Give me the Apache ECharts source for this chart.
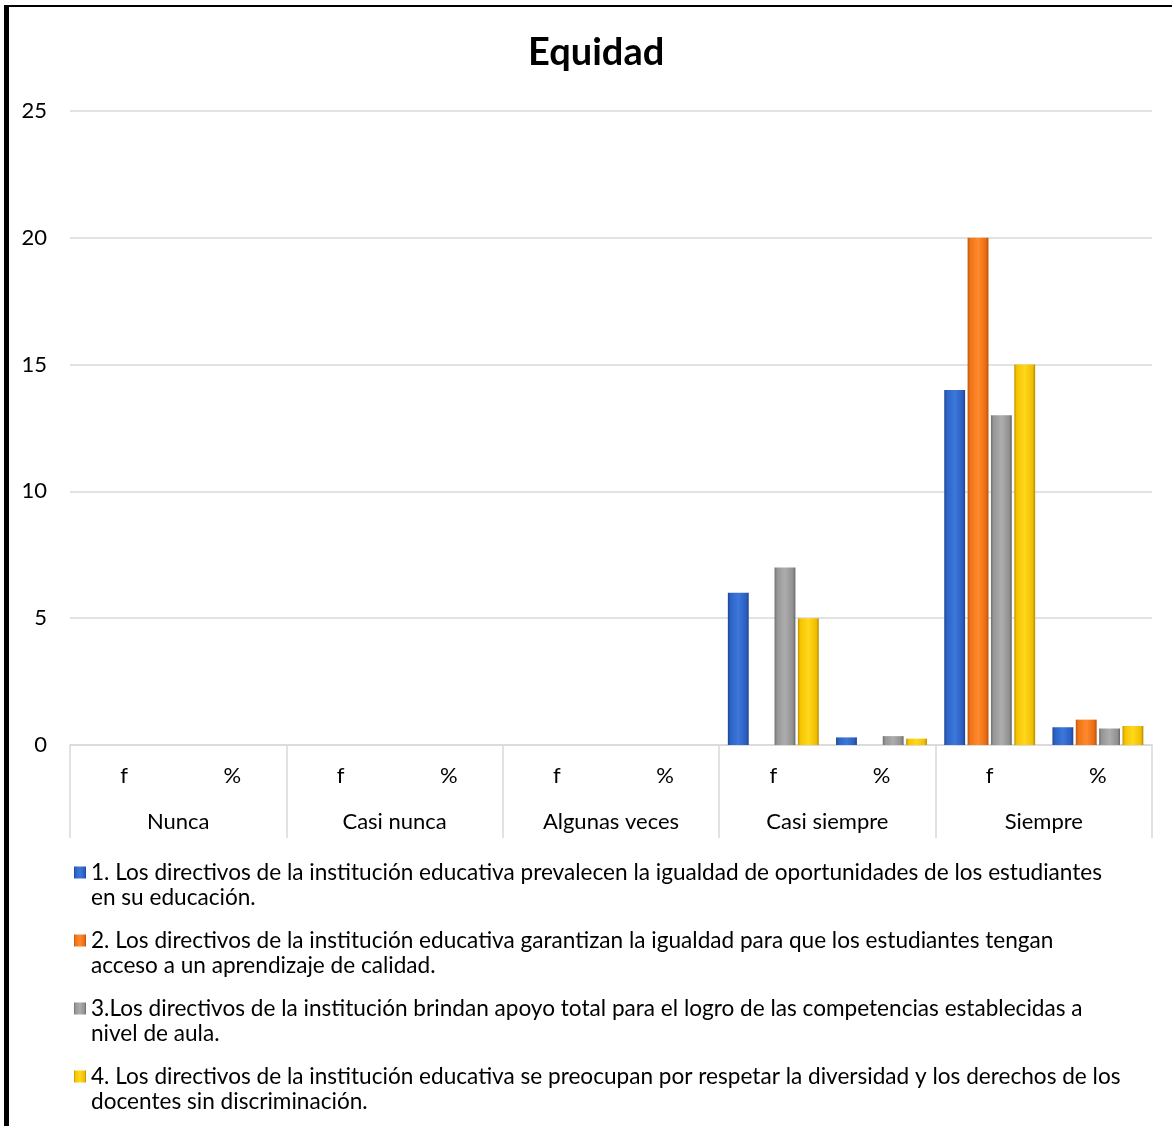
<!DOCTYPE html>
<html>
<head>
<meta charset="utf-8">
<script src="https://cdn.jsdelivr.net/npm/echarts@6/dist/echarts.min.js"></script>
<style>
html,body{margin:0;padding:0;background:#fff;}
#c{position:absolute;left:0;top:0;width:1172px;height:1126px;}
#bl{position:absolute;left:4px;top:5px;width:5px;height:1121px;background:#000;}
#bt{position:absolute;left:4px;top:5px;width:1168px;height:2px;background:#000;}
</style>
</head>
<body>
<div id="c"></div>
<div id="bl"></div>
<div id="bt"></div>
<script>
const subCategories = ['f','%','f','%','f','%','f','%','f','%'];
const groups = ['Nunca','Casi nunca','Algunas veces','Casi siempre','Siempre'];
const seriesNames = [
  '1. Los directivos de la institución educativa prevalecen la igualdad de oportunidades de los estudiantes\nen su educación.',
  '2. Los directivos de la institución educativa garantizan la igualdad para que los estudiantes tengan\nacceso a un aprendizaje de calidad.',
  '3.Los directivos de la institución brindan apoyo total para el logro de las competencias establecidas a\nnivel de aula.',
  '4. Los directivos de la institución educativa se preocupan por respetar la diversidad y los derechos de los\ndocentes sin discriminación.'
];
const s1 = [0,0,0,0,0,0,6,0.3,14,0.7];
const s2 = [0,0,0,0,0,0,0,0,20,1];
const s3 = [0,0,0,0,0,0,7,0.35,13,0.65];
const s4 = [0,0,0,0,0,0,5,0.25,15,0.75];
const yTicks = {min:0,max:25,interval:5};

const palettes = [
  ['#1c478f','#2d63c6','#3c77da','#2b5ec0','#1a428a'],
  ['#c0540c','#ee7418','#ff8a2c','#e86c12','#b44e0a'],
  ['#6e6e6e','#969696','#adadad','#909090','#666666'],
  ['#c09400','#f5c400','#ffd81c','#f0be00','#b48a00']
];
function grad(p){
  return {type:'linear',x:0,y:0,x2:1,y2:0,colorStops:[
    {offset:0,color:p[0]},{offset:0.12,color:p[1]},{offset:0.5,color:p[2]},{offset:0.88,color:p[3]},{offset:1,color:p[4]}]};
}
const FONT = 'Lato';
const FS = 22;
const data = [s1,s2,s3,s4];
const chart = echarts.init(document.getElementById('c'));
chart.setOption({
  animation:false,
  backgroundColor:'#fff',
  title:{text:'Equidad',left:523,top:29,textStyle:{fontFamily:FONT,fontSize:38,fontWeight:'bold',color:'#000'}},
  grid:{left:70,right:20,top:111,bottom:381},
  legend:{
    orient:'vertical',left:69,top:830,itemWidth:12,itemHeight:12,itemGap:-7,
    icon:'rect',
    formatter:function(n){return ' \n'+n;},
    textStyle:{fontFamily:FONT,fontSize:22.6,lineHeight:25,color:'#000'},
    data:seriesNames
  },
  xAxis:[
    {type:'category',data:subCategories,position:'bottom',
     axisLine:{show:true,lineStyle:{color:'#d9d9d9',width:1.5}},
     axisTick:{show:false},
     axisLabel:{interval:0,margin:20,fontFamily:FONT,fontSize:FS,color:'#000'}},
    {type:'category',data:groups,position:'bottom',
     axisLine:{show:false},
     axisTick:{show:true,interval:0,length:93,lineStyle:{color:'#d9d9d9',width:1.5}},
     axisLabel:{interval:0,margin:66,fontFamily:FONT,fontSize:FS,color:'#000'}}
  ],
  yAxis:{type:'value',min:yTicks.min,max:yTicks.max,interval:yTicks.interval,
    axisLine:{show:false},axisTick:{show:false},
    axisLabel:{margin:23,fontFamily:FONT,fontSize:FS,color:'#000'},
    splitLine:{lineStyle:{color:'#d9d9d9',width:1.5}}},
  series:data.map((d,i)=>({
    name:seriesNames[i],type:'bar',xAxisIndex:0,data:d,
    barCategoryGap:'16%',barGap:'12%',
    itemStyle:{color:grad(palettes[i]),borderWidth:0}
  }))
});
</script>
</body>
</html>
